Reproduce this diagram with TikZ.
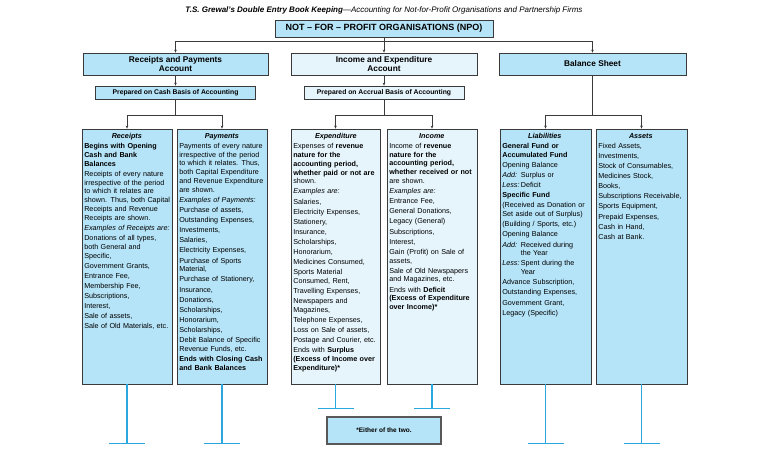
\documentclass[tikz,border=0pt]{standalone}
\usepackage{fontspec}
\setmainfont{Liberation Sans}
\usetikzlibrary{positioning,arrows.meta,calc}

\definecolor{boxblue}{HTML}{B5E3F7}
\definecolor{paleblue}{HTML}{E6F5FC}
\definecolor{edgegrey}{HTML}{3A3A3A}
\definecolor{footcyan}{HTML}{2AA8DE}

% column helpers
\newcommand{\coltitle}[1]{\makebox[85pt]{\bfseries\itshape #1}}
\newcommand{\opbox}[1]{\makebox[18.5pt][l]{\itshape #1}}
\newcommand{\nxt}{\\[1.3pt]}

\begin{document}
\begin{tikzpicture}[x=1pt, y=-1pt, >={Stealth[length=3pt,width=2.6pt]},
  box/.style={draw=edgegrey, line width=0.8pt, fill=boxblue, inner sep=0pt},
  palebox/.style={box, fill=paleblue},
  head/.style={font=\fontsize{8.3}{9.3}\selectfont\bfseries, align=center, minimum height=22pt},
  basis/.style={font=\fontsize{6.8}{7}\selectfont\bfseries, minimum width=160pt, minimum height=13pt},
  colbox/.style={minimum width=90pt, minimum height=255pt},
  coltext/.style={anchor=north west, inner sep=0pt, text width=92pt, align=left,
    font=\fontsize{7.2}{8.8}\selectfont},
  link/.style={draw=edgegrey, line width=0.6pt},
  foot/.style={draw=footcyan, line width=1.2pt}]

  \path[fill=white, use as bounding box] (0,0) rectangle (768,461);

  % header
  \node[font=\fontsize{8}{9}\selectfont\itshape] (title) at (384,10)
    {\textbf{T.S. Grewal's Double Entry Book Keeping}---Accounting for Not-for-Profit Organisations and Partnership Firms};

  % top level
  \node[box, minimum width=218pt, minimum height=17pt, font=\fontsize{9}{10}\selectfont\bfseries] (npo) at (384,28.5)
    {NOT -- FOR -- PROFIT ORGANISATIONS (NPO)};
  \coordinate (bus) at (0,41);

  \node[box, head, minimum width=185pt] (rp) at (175.5,64) {Receipts and Payments\\Account};
  \node[palebox, head, minimum width=186pt] (ie) at (384,64) {Income and Expenditure\\Account};
  \node[box, head, minimum width=187pt] (bs) at (592.5,64) {Balance Sheet};

  \draw[link, ->] (npo.south) -- (npo.south |- bus) -| (rp.north);
  \draw[link, ->] (npo.south) -- (ie.north);
  \draw[link, ->] (npo.south |- bus) -| (bs.north);

  % basis of accounting
  \node[box, basis] (cash) at (175.5,92.5) {Prepared on Cash Basis of Accounting};
  \node[palebox, basis] (accrual) at (384,92.5) {Prepared on Accrual Basis of Accounting};
  \draw[link, ->] (rp.south) -- (cash.north);
  \draw[link, ->] (ie.south) -- (accrual.north);

  % columns
  \node[box, colbox] (rec) at (127,256.5) {};
  \node[box, colbox] (pay) at (222,256.5) {};
  \node[palebox, colbox, minimum width=89pt] (exp) at (335.5,256.5) {};
  \node[palebox, colbox] (inc) at (432,256.5) {};
  \node[box, colbox, minimum width=91pt] (lia) at (545.5,256.5) {};
  \node[box, colbox, minimum width=91pt] (ast) at (641.5,256.5) {};

  \coordinate (split) at (0,115);
  \draw[link, ->] (cash.south) -- (cash.south |- split) -| (rec.north);
  \draw[link, ->] (cash.south |- split) -| (pay.north);
  \draw[link, ->] (accrual.south) -- (accrual.south |- split) -| (exp.north);
  \draw[link, ->] (accrual.south |- split) -| (inc.north);
  \draw[link, ->] (bs.south) -- (bs.south |- split) -| (lia.north);
  \draw[link, ->] (bs.south |- split) -| (ast.north);

  % column texts
  \node[coltext] (rectext) at ($(rec.north west)+(2.5,4.5)$) {%
    \coltitle{Receipts}\nxt
    \textbf{Begins with Opening}\\\textbf{Cash and Bank}\\\textbf{Balances}\nxt
    Receipts of every nature\\irrespective of the period\\to which it relates are\\shown. Thus, both Capital\\Receipts and Revenue\\Receipts are shown.\nxt
    \textit{Examples of Receipts are:}\nxt
    Donations of all types,\\both General and\\Specific,\nxt
    Government Grants,\nxt
    Entrance Fee,\nxt
    Membership Fee,\nxt
    Subscriptions,\nxt
    Interest,\nxt
    Sale of assets,\nxt
    Sale of Old Materials, etc.};

  \node[coltext] (paytext) at ($(pay.north west)+(2.5,4.5)$) {%
    \coltitle{Payments}\nxt
    Payments of every nature\\irrespective of the period\\to which it relates. Thus,\\both Capital Expenditure\\and Revenue Expenditure\\are shown.\nxt
    \textit{Examples of Payments:}\nxt
    Purchase of assets,\nxt
    Outstanding Expenses,\nxt
    Investments,\nxt
    Salaries,\nxt
    Electricity Expenses,\nxt
    Purchase of Sports\\Material,\nxt
    Purchase of Stationery,\nxt
    Insurance,\nxt
    Donations,\nxt
    Scholarships,\nxt
    Honorarium,\nxt
    Scholarships,\nxt
    Debit Balance of Specific\\Revenue Funds, etc.\nxt
    \textbf{Ends with Closing Cash}\\\textbf{and Bank Balances}};

  \node[coltext] (exptext) at ($(exp.north west)+(2.5,4.5)$) {%
    \coltitle{Expenditure}\nxt
    Expenses of \textbf{revenue}\\\textbf{nature for the}\\\textbf{accounting period,}\\\textbf{whether paid or not are}\\shown.\nxt
    \textit{Examples are:}\nxt
    Salaries,\nxt
    Electricity Expenses,\nxt
    Stationery,\nxt
    Insurance,\nxt
    Scholarships,\nxt
    Honorarium,\nxt
    Medicines Consumed,\nxt
    Sports Material\\Consumed, Rent,\nxt
    Travelling Expenses,\nxt
    Newspapers and\\Magazines,\nxt
    Telephone Expenses,\nxt
    Loss on Sale of assets,\nxt
    Postage and Courier, etc.\nxt
    Ends with \textbf{Surplus}\\\textbf{(Excess of Income over}\\\textbf{Expenditure)*}};

  \node[coltext] (inctext) at ($(inc.north west)+(2.5,4.5)$) {%
    \coltitle{Income}\nxt
    Income of \textbf{revenue}\\\textbf{nature for the}\\\textbf{accounting period,}\\\textbf{whether received or not}\\are shown.\nxt
    \textit{Examples are:}\nxt
    Entrance Fee,\nxt
    General Donations,\nxt
    Legacy (General)\nxt
    Subscriptions,\nxt
    Interest,\nxt
    Gain (Profit) on Sale of\\assets,\nxt
    Sale of Old Newspapers\\and Magazines, etc.\nxt
    Ends with \textbf{Deficit}\\\textbf{(Excess of Expenditure}\\\textbf{over Income)*}};

  \node[coltext] (liatext) at ($(lia.north west)+(2.5,4.5)$) {%
    \coltitle{Liabilities}\nxt
    \textbf{General Fund or}\\\textbf{Accumulated Fund}\nxt
    Opening Balance\nxt
    \opbox{Add:}Surplus or\nxt
    \opbox{Less:}Deficit\nxt
    \textbf{Specific Fund}\nxt
    (Received as Donation or\\Set aside out of Surplus)\nxt
    (Building / Sports, etc.)\nxt
    Opening Balance\nxt
    \opbox{Add:}Received during\\\opbox{}the Year\nxt
    \opbox{Less:}Spent during the\\\opbox{}Year\nxt
    Advance Subscription,\nxt
    Outstanding Expenses,\nxt
    Government Grant,\nxt
    Legacy (Specific)};

  \node[coltext] (asttext) at ($(ast.north west)+(2.5,4.5)$) {%
    \coltitle{Assets}\nxt
    Fixed Assets,\nxt
    Investments,\nxt
    Stock of Consumables,\nxt
    Medicines Stock,\nxt
    Books,\nxt
    Subscriptions Receivable,\nxt
    Sports Equipment,\nxt
    Prepaid Expenses,\nxt
    Cash in Hand,\nxt
    Cash at Bank.};

  % stands under the columns
  \draw[foot] (rec.south) -- ++(0,59) coordinate (recfoot);
  \draw[foot] ($(recfoot)+(-18,0)$) -- ($(recfoot)+(18,0)$);
  \draw[foot] (pay.south) -- ++(0,59) coordinate (payfoot);
  \draw[foot] ($(payfoot)+(-18,0)$) -- ($(payfoot)+(18,0)$);
  \draw[foot] (exp.south) -- ++(0,24) coordinate (expfoot);
  \draw[foot] ($(expfoot)+(-18,0)$) -- ($(expfoot)+(18,0)$);
  \draw[foot] (inc.south) -- ++(0,24) coordinate (incfoot);
  \draw[foot] ($(incfoot)+(-18,0)$) -- ($(incfoot)+(18,0)$);
  \draw[foot] (lia.south) -- ++(0,59) coordinate (liafoot);
  \draw[foot] ($(liafoot)+(-18,0)$) -- ($(liafoot)+(18,0)$);
  \draw[foot] (ast.south) -- ++(0,59) coordinate (astfoot);
  \draw[foot] ($(astfoot)+(-18,0)$) -- ($(astfoot)+(18,0)$);

  % note
  \node[box, draw=edgegrey!85, line width=1.2pt, minimum width=114pt, minimum height=27pt,
    font=\fontsize{6.5}{7}\selectfont\bfseries] (note) at (384,430.5) {*Either of the two.};
\end{tikzpicture}
\end{document}
